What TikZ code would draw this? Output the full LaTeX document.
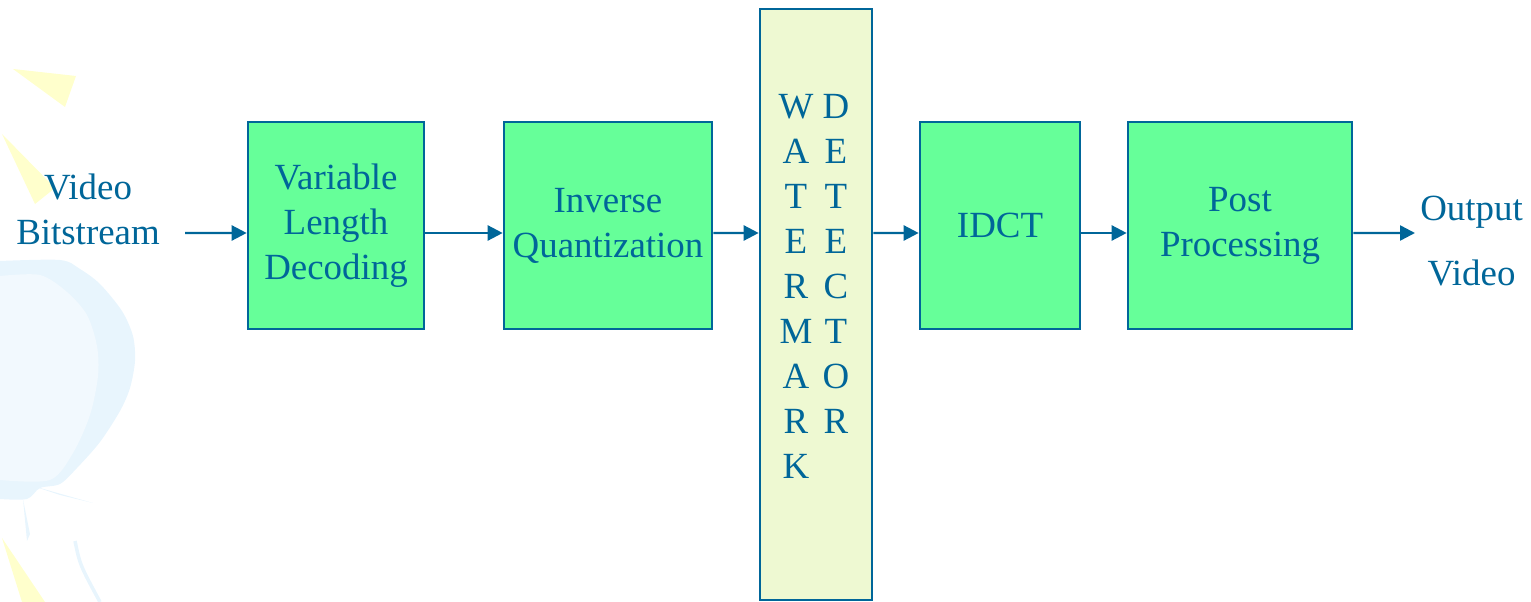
\documentclass[tikz,border=0pt]{standalone}
\usepackage{fontspec}
\setmainfont{Liberation Serif}
\usetikzlibrary{arrows.meta}
\definecolor{txtblue}{RGB}{0,102,153}
\definecolor{boxgreen}{RGB}{102,255,153}
\definecolor{wmfill}{RGB}{238,249,210}
\definecolor{bgyellow}{RGB}{255,255,204}
\definecolor{bgblue}{RGB}{232,245,253}
\definecolor{bgpale}{RGB}{242,249,254}
\begin{document}
\begin{tikzpicture}[
    block/.style={draw=txtblue, line width=1.5pt, fill=boxgreen, text=txtblue,
        align=center, inner sep=0pt, font=\fontsize{21}{25.6}\selectfont},
    wmblock/.style={draw=txtblue, line width=1.5pt, fill=wmfill},
    letters/.style={text=txtblue, align=center, inner sep=0pt, anchor=north,
        font=\fontsize{21}{25.6}\selectfont},
    label/.style={text=txtblue, align=center, inner sep=0pt,
        font=\fontsize{21}{25.6}\selectfont},
    flow/.style={-{Triangle[length=0.3cm, width=0.3cm]}, draw=txtblue, line width=1.4pt}
]
    \useasboundingbox (0,0) rectangle (30.62,-12.04);
    % Background
    \fill[bgyellow] (0.26,-1.38) -- (1.52,-1.52) -- (1.30,-2.14) -- cycle;
    \fill[bgyellow] (0.04,-2.68) -- (1.10,-3.76) -- (0.70,-4.08) -- cycle;
    \fill[bgyellow] (0.04,-10.76) -- (0.44,-12.04) -- (0.90,-12.04) -- cycle;
    \fill[bgblue] plot[smooth] coordinates {(0,-5.22) (1.20,-5.20) (1.60,-5.38) (2.00,-5.68)
        (2.44,-6.22) (2.66,-6.72) (2.70,-7.22) (2.60,-7.76) (2.40,-8.22) (2.00,-8.84)
        (1.54,-9.36) (1.20,-9.68) (0.80,-9.76) (0.54,-9.98) (0,-9.98)} -- cycle;
    \fill[bgpale] plot[smooth] coordinates {(0,-5.52) (0.80,-5.50) (1.34,-5.84) (1.74,-6.30)
        (1.94,-6.92) (1.96,-7.52) (1.80,-8.30) (1.46,-9.06) (1.00,-9.60) (0,-9.60)} -- cycle;
    \fill[bgblue] (0.66,-9.72) -- (1.86,-10.06) -- (1.20,-9.90) -- cycle;
    \fill[bgblue] (0.46,-9.98) -- (0.60,-10.68) -- (0.54,-10.82) -- cycle;
    \draw[bgblue, line width=2pt] (1.50,-10.82) .. controls (1.60,-11.30) .. (2.00,-12.04);
    % Blocks
    \node[block, minimum width=3.52cm, minimum height=4.14cm] (vld) at (6.72,-4.51)
        {Variable\\Length\\Decoding};
    \node[block, minimum width=4.16cm, minimum height=4.14cm] (iq) at (12.16,-4.51)
        {Inverse\\Quantization};
    \node[wmblock, minimum width=2.24cm, minimum height=11.82cm] (wm) at (16.32,-6.09) {};
    \node[letters] (wmleft) at (15.92,-1.88) {W\\A\\T\\E\\R\\M\\A\\R\\K};
    \node[letters] (wmright) at (16.72,-1.88) {D\\E\\T\\E\\C\\T\\O\\R};
    \node[block, minimum width=3.20cm, minimum height=4.14cm] (idct) at (20.00,-4.51) {IDCT};
    \node[block, minimum width=4.48cm, minimum height=4.14cm] (post) at (24.80,-4.51)
        {Post\\Processing};
    % Input and output
    \node[label] (input) at (1.76,-4.19) {Video\\Bitstream};
    \node[label, font=\fontsize{21}{37}\selectfont] (output) at (29.43,-4.83) {Output\\Video};
    \coordinate (instart) at (3.70,-4.66);
    \coordinate (outend) at (28.30,-4.66);
    % Arrows
    \draw[flow] (instart) -- ([yshift=-0.15cm]vld.west);
    \draw[flow] ([yshift=-0.15cm]vld.east) -- ([yshift=-0.15cm]iq.west);
    \draw[flow] ([yshift=-0.15cm]iq.east) -- (wm.west |- outend);
    \draw[flow] (wm.east |- outend) -- ([yshift=-0.15cm]idct.west);
    \draw[flow] ([yshift=-0.15cm]idct.east) -- ([yshift=-0.15cm]post.west);
    \draw[flow] ([yshift=-0.15cm]post.east) -- (outend);
\end{tikzpicture}
\end{document}
